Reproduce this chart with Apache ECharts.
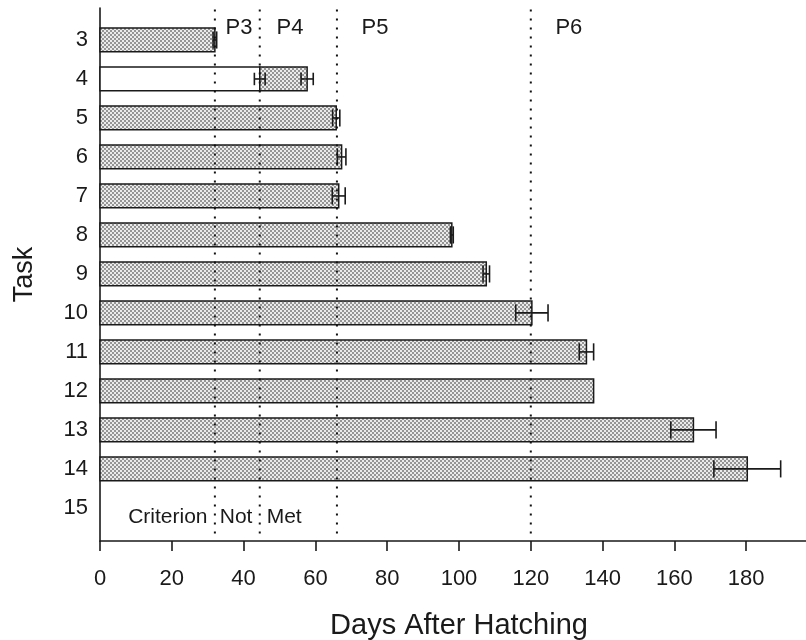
<!DOCTYPE html>
<html>
<head>
<meta charset="utf-8">
<script src="https://cdn.jsdelivr.net/npm/echarts@6/dist/echarts.min.js"></script>
<style>
html,body{margin:0;padding:0;background:#fff;}
#chart{width:806px;height:640px;}
</style>
</head>
<body>
<div id="chart"></div>
<script>
// ---- data ----
const tasks = [3, 4, 5, 6, 7, 8, 9, 10, 11, 12, 13, 14, 15];
const meanDays = [32.0, 57.7, 65.8, 67.3, 66.5, 98.0, 107.6, 120.3, 135.5, 137.5, 165.3, 180.3, null];
const errDays = [0.5, 1.7, 1.0, 1.2, 1.8, 0.4, 0.9, 4.5, 2.0, 0, 6.3, 9.3, null];
const openBarDays = [null, 44.5, null, null, null, null, null, null, null, null, null, null, null];
const openBarErr = [null, 1.5, null, null, null, null, null, null, null, null, null, null, null];
const phaseBounds = [32, 44.5, 66, 120];
const phaseNames = ['P3', 'P4', 'P5', 'P6'];
const phaseLabelDays = [38.7, 52.9, 76.6, 130.6];
const criterionWords = ['Criterion', 'Not', 'Met'];
const criterionWordDays = [18.9, 37.9, 51.3];
const criterionTask = 15;
const xTicks = [0, 20, 40, 60, 80, 100, 120, 140, 160, 180];

// ---- stipple pattern ----
const pc = document.createElement('canvas');
pc.width = 4; pc.height = 4;
const pctx = pc.getContext('2d');
pctx.fillStyle = '#ebebeb'; pctx.fillRect(0, 0, 4, 4);
pctx.fillStyle = '#959595';
pctx.fillRect(0, 0, 2, 2); pctx.fillRect(2, 2, 2, 2);
const stipple = { image: pc, repeat: 'repeat' };

const Y_MIN = 2.18, Y_MAX = 15.85;
const FONT = '"Liberation Sans", Arial, Helvetica, sans-serif';
const INK = '#1a1a1a';

const barData = [];
tasks.forEach((t, i) => {
  if (meanDays[i] != null) {
    barData.push([t, meanDays[i], errDays[i],
      openBarDays[i] == null ? NaN : openBarDays[i],
      openBarErr[i] == null ? NaN : openBarErr[i]]);
  }
});

function errorBar(api, center, err, y, capH) {
  const lo = api.coord([center - err, y]);
  const hi = api.coord([center + err, y]);
  const st = { stroke: INK, lineWidth: 1.6 };
  return [
    { type: 'line', shape: { x1: lo[0], y1: lo[1], x2: hi[0], y2: hi[1] }, style: st },
    { type: 'line', shape: { x1: lo[0], y1: lo[1] - capH, x2: lo[0], y2: lo[1] + capH }, style: st },
    { type: 'line', shape: { x1: hi[0], y1: hi[1] - capH, x2: hi[0], y2: hi[1] + capH }, style: st }
  ];
}

function renderBar(params, api) {
  const task = api.value(0), mean = api.value(1), err = api.value(2);
  const open = api.value(3), openErr = api.value(4);
  const bandH = api.size([0, 1])[1];
  const h = bandH * 0.61;
  const children = [];
  let start = 0;
  if (!isNaN(open)) {
    const a = api.coord([0, task]);
    const b = api.coord([open, task]);
    children.push({ type: 'rect', shape: { x: a[0], y: a[1] - h / 2, width: b[0] - a[0], height: h },
      style: { fill: '#fff', stroke: INK, lineWidth: 1.5 } });
    start = open;
  }
  const s = api.coord([start, task]);
  const e = api.coord([mean, task]);
  children.push({ type: 'rect', shape: { x: s[0], y: s[1] - h / 2, width: e[0] - s[0], height: h },
    style: { fill: stipple, stroke: INK, lineWidth: 1.5 } });
  const capH = bandH * 0.22;
  if (!isNaN(open) && openErr > 0) children.push(...errorBar(api, open, openErr, task, bandH * 0.16));
  if (err > 0) children.push(...errorBar(api, mean, err, task, isNaN(open) ? capH : bandH * 0.16));
  return { type: 'group', children };
}

function renderPhaseLine(params, api) {
  const x = api.value(0);
  const top = api.coord([x, 2.22]);
  const bot = api.coord([x, 15.72]);
  return { type: 'line', shape: { x1: top[0], y1: top[1], x2: bot[0], y2: bot[1] },
    style: { stroke: '#111', lineWidth: 2, lineDash: [2, 7] } };
}

function renderText(params, api) {
  const p = api.coord([api.value(0), api.value(1)]);
  return { type: 'text', x: p[0], y: p[1],
    style: { text: api.value(2), fill: INK, font: api.value(3) + 'px ' + FONT, align: 'center', verticalAlign: 'middle' } };
}

const phaseLabelData = phaseNames.map((n, i) => [phaseLabelDays[i], 2.68, n, 22]);
const criterionData = criterionWords.map((w, i) => [criterionWordDays[i], criterionTask + 0.25, w, 21]);

const chart = echarts.init(document.getElementById('chart'), null, { renderer: 'canvas' });
chart.setOption({
  animation: false,
  backgroundColor: '#fff',
  grid: { left: 100, right: -12, top: 8, bottom: 99, containLabel: false, outerBoundsMode: 'none' },
  xAxis: {
    type: 'value', min: 0, max: 200, interval: 20,
    name: 'Days After Hatching', nameLocation: 'middle', nameGap: 70,
    nameTextStyle: { fontSize: 29, color: INK, fontFamily: FONT },
    axisLine: { show: true, onZero: false, lineStyle: { color: INK, width: 1.6 } },
    axisTick: { show: true, inside: false, length: 10, lineStyle: { color: INK, width: 1.6 }, customValues: xTicks },
    axisLabel: { fontSize: 22, color: INK, fontFamily: FONT, margin: 27, customValues: xTicks },
    splitLine: { show: false }
  },
  yAxis: {
    type: 'value', inverse: true, min: Y_MIN, max: Y_MAX,
    name: 'Task', nameLocation: 'middle', nameGap: 62,
    nameTextStyle: { fontSize: 27, color: INK, fontFamily: FONT },
    axisLine: { show: true, onZero: false, lineStyle: { color: INK, width: 1.6 } },
    axisTick: { show: false },
    axisLabel: { fontSize: 22, color: INK, fontFamily: FONT, margin: 12, customValues: tasks },
    splitLine: { show: false }
  },
  series: [
    { type: 'custom', name: 'bars', renderItem: renderBar, data: barData, encode: { x: 1, y: 0 }, clip: false, z: 2 },
    { type: 'custom', name: 'phases', renderItem: renderPhaseLine, data: phaseBounds.map(v => [v]), encode: { x: 0 }, clip: false, z: 3 },
    { type: 'custom', name: 'phaseLabels', renderItem: renderText, data: phaseLabelData, encode: { x: 0, y: 1 }, clip: false, z: 4 },
    { type: 'custom', name: 'criterion', renderItem: renderText, data: criterionData, encode: { x: 0, y: 1 }, clip: false, z: 4 }
  ]
});
</script>
</body>
</html>
